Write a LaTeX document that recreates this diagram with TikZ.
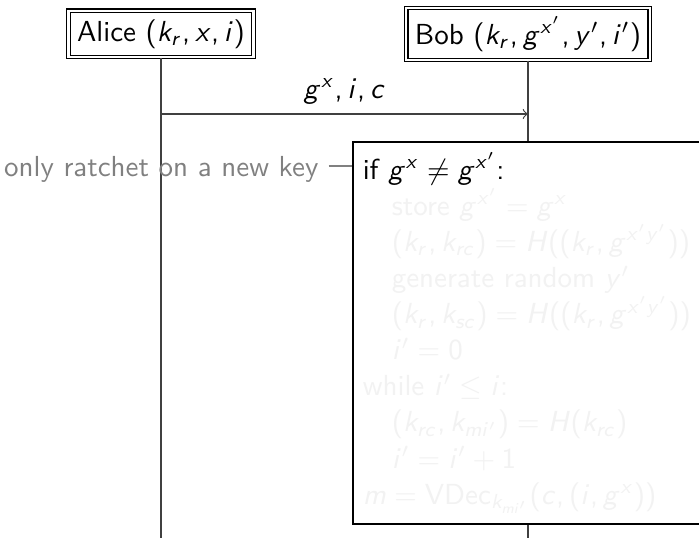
\documentclass[tikz,border=0pt]{standalone}
\usepackage{amsmath, amssymb}
\usepackage{tikz}
\usetikzlibrary{positioning, calc}
% sans serif maths, as on the slides
\DeclareMathVersion{sfm}
\SetSymbolFont{operators}{sfm}{OT1}{cmss}{m}{n}
\SetSymbolFont{letters}{sfm}{OT1}{cmss}{m}{it}
\DeclareMathSymbol{,}{\mathpunct}{operators}{"2C}
\colorlet{notegray}{black!50}
\colorlet{hidden}{black!5}

\begin{document}
\begin{tikzpicture}[x=0.345pt, y=-0.345pt,
    every node/.style={font=\sffamily\mathversion{sfm}},
    actor/.style={draw, double, double distance=0.8pt, fill=white, inner sep=3pt},
    lifeline/.style={black!75},
    stepbox/.style={draw, semithick, fill=white, text width=114pt, inner sep=3.5pt, align=left, anchor=north,
      font=\sffamily\mathversion{sfm}\fontsize{10}{12.45}\selectfont},
    note/.style={text=notegray}]
  \clip (0,0) rectangle (699,537);
  % instances
  \node[actor] (alice) at (161,34) {Alice $(k_r, x, i)$};
  \node[actor] (bob) at (528,34) {Bob $(k_r, g^{x'}, y', i')$};
  % lifelines
  \coordinate (bottom) at (0,545);
  \draw[lifeline] (alice) -- (alice |- bottom);
  \draw[lifeline] (bob) -- (bob |- bottom);
  % message to bob
  \coordinate (msg) at (0,114);
  \draw[lifeline, ->] (alice |- msg) -- node[above, text=black] {$g^x, i, c$} (bob |- msg);
  % what bob does on receipt
  \node[stepbox] (recv) at (bob |- 0,141) {if $g^x \neq g^{x'}$:\\ \color{hidden}
    \quad store $g^{x'} = g^x$\\
    \quad $(k_r, k_{rc}) = H((k_r, g^{x'y'}))$\\
    \quad generate random $y'$\\
    \quad $(k_r, k_{sc}) = H((k_r, g^{x'y'}))$\\
    \quad $i' = 0$\\
    while $i' \leq i$:\\
    \quad $(k_{rc}, k_{mi'}) = H(k_{rc})$\\
    \quad $i' = i' + 1$\\
    $m = \mathsf{VDec}_{k_{mi'}}(c, (i, g^x))$};
  % side remark
  \coordinate (ifline) at ($(recv.north west)+(0,25)$);
  \node[note, left=8pt of ifline, yshift=-1.3pt] (note) {only ratchet on a new key};
  \draw[notegray] (note.east |- ifline) -- (ifline);
\end{tikzpicture}
\end{document}
